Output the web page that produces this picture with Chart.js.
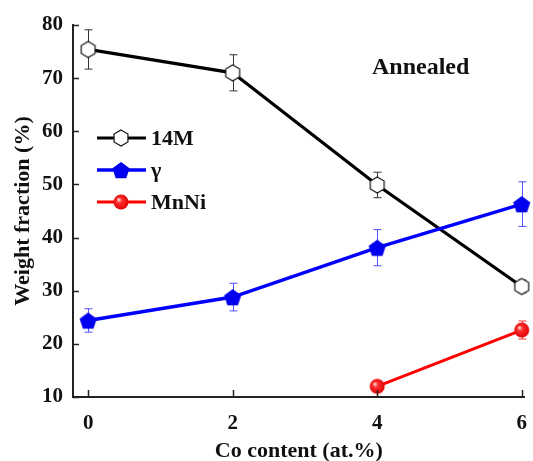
<!DOCTYPE html>
<html>
<head>
<meta charset="utf-8">
<script src="https://cdn.jsdelivr.net/npm/chart.js@4.4.0/dist/chart.umd.min.js"></script>
<style>
  body { margin: 0; background: #fff; }
  #wrap { width: 533px; height: 461px; position: relative; }
</style>
</head>
<body>
<div id="wrap"><canvas id="fracChart"></canvas></div>
<script>
var coContent = [0, 2, 4, 6];
var w14M = [75.4, 71.0, 49.9, 30.8];
var err14M = [3.7, 3.4, 2.4, 1.2];
var wGamma = [24.4, 28.8, 38.1, 46.3];
var errGamma = [2.2, 2.6, 3.4, 4.2];
var wMnNi = [null, null, 12.0, 22.6];
var errMnNi = [null, null, 0, 1.7];
var yTicks = [10, 20, 30, 40, 50, 60, 70, 80];
var xTicks = [0, 2, 4, 6];
var seriesNames = ["14M", "\u03b3", "MnNi"];

var serif = "'Liberation Serif', 'DejaVu Serif', serif";

function makeShape(kind){
    var c = document.createElement('canvas');
    var s = 22;
    c.width = s; c.height = s;
    var ctx = c.getContext('2d');
    var cx = s/2, cy = s/2;
    ctx.beginPath();
    if(kind == 'hex'){
        var r = 8;
        for(var i = 0; i < 6; i++){
            var a = -Math.PI/2 + i*Math.PI/3;
            var px = cx + r*Math.cos(a), py = cy + r*Math.sin(a);
            if(i == 0) ctx.moveTo(px, py); else ctx.lineTo(px, py);
        }
        ctx.closePath();
        ctx.fillStyle = '#fff';
        ctx.fill();
        ctx.lineWidth = 1.2;
        ctx.strokeStyle = '#111';
        ctx.stroke();
    }
    else if(kind == 'pent'){
        var r = 9;
        for(var i = 0; i < 5; i++){
            var a = -Math.PI/2 + i*2*Math.PI/5;
            var px = cx + r*Math.cos(a), py = cy + 1 + r*Math.sin(a);
            if(i == 0) ctx.moveTo(px, py); else ctx.lineTo(px, py);
        }
        ctx.closePath();
        ctx.fillStyle = '#0000ee';
        ctx.fill();
    }
    else {
        var g = ctx.createRadialGradient(cx-2.5, cy-2.5, 0.5, cx, cy, 8);
        g.addColorStop(0, '#ffd8d8');
        g.addColorStop(0.3, '#ff3030');
        g.addColorStop(1, '#dd0000');
        ctx.arc(cx, cy, 7.5, 0, Math.PI*2);
        ctx.fillStyle = g;
        ctx.fill();
    }
    return c;
}

var hexImg = makeShape('hex');
var pentImg = makeShape('pent');
var ballImg = makeShape('ball');

function toPoints(ys){
    var pts = [];
    for(var i = 0; i < coContent.length; i++){
        if(ys[i] !== null) pts.push({x: coContent[i], y: ys[i]});
    }
    return pts;
}

var errorSets = [err14M, errGamma, errMnNi];
var valueSets = [w14M, wGamma, wMnNi];
var markerImgs = [hexImg, pentImg, ballImg];

// error bars, drawn before the points so markers sit on top
var errorBars = {
    id: 'errorBars',
    beforeDatasetsDraw(chart){
        var ctx = chart.ctx, xs = chart.scales.x, ys = chart.scales.y;
        ctx.save();
        for(var d = 0; d < 3; d++){
            ctx.strokeStyle = chart.data.datasets[d].errColor;
            ctx.lineWidth = 1;
            for(var i = 0; i < coContent.length; i++){
                var v = valueSets[d][i], e = errorSets[d][i];
                if(v === null || !e) continue;
                var px = Math.round(xs.getPixelForValue(coContent[i])) + 0.5;
                var top = ys.getPixelForValue(v + e), bot = ys.getPixelForValue(v - e);
                ctx.beginPath();
                ctx.moveTo(px, top); ctx.lineTo(px, bot);
                ctx.moveTo(px-4, top); ctx.lineTo(px+4, top);
                ctx.moveTo(px-4, bot); ctx.lineTo(px+4, bot);
                ctx.stroke();
            }
        }
        ctx.restore();
    }
};

// inward ticks, legend and the label
var extras = {
    id: 'extras',
    afterDraw(chart){
        var ctx = chart.ctx, xs = chart.scales.x, ys = chart.scales.y, a = chart.chartArea;
        ctx.save();
        ctx.strokeStyle = '#222';
        ctx.lineWidth = 1.5;
        yTicks.forEach(function(t){
            var py = Math.round(ys.getPixelForValue(t)) + 0.5;
            ctx.beginPath(); ctx.moveTo(a.left, py); ctx.lineTo(a.left + 6, py); ctx.stroke();
        });
        xTicks.forEach(function(t){
            var px = Math.round(xs.getPixelForValue(t)) + 0.5;
            ctx.beginPath(); ctx.moveTo(px, a.bottom); ctx.lineTo(px, a.bottom - 7); ctx.stroke();
        });

        var rowsY = [138, 170, 202];
        for(var i = 0; i < 3; i++){
            var ds = chart.data.datasets[i];
            ctx.strokeStyle = ds.borderColor;
            ctx.lineWidth = ds.borderWidth;
            ctx.beginPath(); ctx.moveTo(97, rowsY[i]); ctx.lineTo(146, rowsY[i]); ctx.stroke();
            ctx.drawImage(markerImgs[i], 121 - 11, rowsY[i] - 11);
            ctx.fillStyle = '#111';
            ctx.font = 'bold 22px ' + serif;
            ctx.textBaseline = 'middle';
            ctx.fillText(seriesNames[i], 151, rowsY[i] + 1);
        }
        ctx.font = 'bold 24px ' + serif;
        ctx.fillText('Annealed', 372, 68);
        ctx.restore();
    }
};

new Chart(document.getElementById('fracChart'), {
    type: 'line',
    data: {
        datasets: [
            {
                label: seriesNames[0], data: toPoints(w14M),
                borderColor: '#000', borderWidth: 3.2, errColor: '#333',
                pointStyle: hexImg, order: 1
            },
            {
                label: seriesNames[1], data: toPoints(wGamma),
                borderColor: '#0000ff', borderWidth: 3.5, errColor: '#5050ff',
                pointStyle: pentImg, order: 0
            },
            {
                label: seriesNames[2], data: toPoints(wMnNi),
                borderColor: '#ff0000', borderWidth: 3, errColor: '#ff3030',
                pointStyle: ballImg, order: 2
            }
        ]
    },
    options: {
        responsive: true,
        maintainAspectRatio: false,
        animation: false,
        clip: false,
        layout: { padding: { top: 25, right: 0, left: 0, bottom: 0 } },
        plugins: { legend: { display: false }, tooltip: { enabled: false } },
        scales: {
            x: {
                type: 'linear', min: -0.21, max: 6.04,
                afterBuildTicks: function(s){ s.ticks = xTicks.map(function(v){ return {value: v}; }); },
                afterFit: function(s){ s.height = 64; },
                grid: { display: false },
                border: { display: true, color: '#222', width: 2 },
                ticks: { color: '#111', padding: 6, font: { family: serif, size: 21, weight: 'bold' } },
                title: { display: true, text: 'Co content (at.%)', color: '#111', padding: { top: 0, bottom: -4 },
                         font: { family: serif, size: 22, weight: 'bold' } }
            },
            y: {
                min: 10, max: 80,
                afterBuildTicks: function(s){ s.ticks = yTicks.map(function(v){ return {value: v}; }); },
                afterFit: function(s){ s.width = 73; },
                grid: { display: false },
                border: { display: true, color: '#222', width: 2 },
                ticks: { color: '#111', padding: 2, font: { family: serif, size: 21, weight: 'bold' } },
                title: { display: true, text: 'Weight fraction (%)', color: '#111', padding: { top: 10, bottom: 2 },
                         font: { family: serif, size: 22, weight: 'bold' } }
            }
        }
    },
    plugins: [errorBars, extras]
});
</script>
</body>
</html>
